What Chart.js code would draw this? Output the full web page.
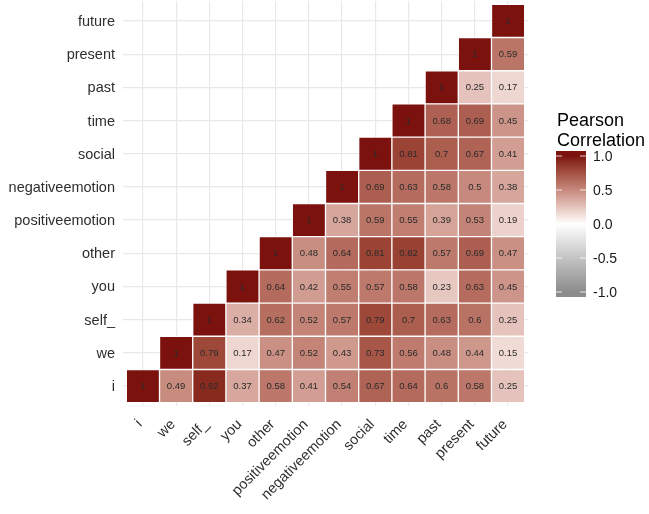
<!DOCTYPE html>
<html lang="en">
<head>
    <meta charset="UTF-8">
    <script src="https://cdn.jsdelivr.net/npm/chart.js@4.4.1/dist/chart.umd.min.js"></script>
    <title>Pearson Correlation</title>
    <style>
        html, body { margin: 0; padding: 0; background: #fff; }
        #chart-container { width: 649px; height: 514px; }
    </style>
</head>
<body>
    <div id="chart-container">
        <canvas id="corrChart" width="649" height="514"></canvas>
    </div>

    <script>
        // variables, from bottom/left to top/right
        const names = ['i', 'we', 'self_', 'you', 'other', 'positiveemotion', 'negativeemotion',
                       'social', 'time', 'past', 'present', 'future'];

        // each row starts at its own diagonal cell and goes right
        const rowI       = [1, 0.49, 0.92, 0.37, 0.58, 0.41, 0.54, 0.67, 0.64, 0.6, 0.58, 0.25];
        const rowWe      = [1, 0.79, 0.17, 0.47, 0.52, 0.43, 0.73, 0.56, 0.48, 0.44, 0.15];
        const rowSelf    = [1, 0.34, 0.62, 0.52, 0.57, 0.79, 0.7, 0.63, 0.6, 0.25];
        const rowYou     = [1, 0.64, 0.42, 0.55, 0.57, 0.58, 0.23, 0.63, 0.45];
        const rowOther   = [1, 0.48, 0.64, 0.81, 0.82, 0.57, 0.69, 0.47];
        const rowPosEmo  = [1, 0.38, 0.59, 0.55, 0.39, 0.53, 0.19];
        const rowNegEmo  = [1, 0.69, 0.63, 0.58, 0.5, 0.38];
        const rowSocial  = [1, 0.81, 0.7, 0.67, 0.41];
        const rowTime    = [1, 0.68, 0.69, 0.45];
        const rowPast    = [1, 0.25, 0.17];
        const rowPresent = [1, 0.59];
        const rowFuture  = [1];
        const rows = [rowI, rowWe, rowSelf, rowYou, rowOther, rowPosEmo, rowNegEmo,
                      rowSocial, rowTime, rowPast, rowPresent, rowFuture];

        const legendTicks = [1.0, 0.5, 0.0, -0.5, -1.0];
        const legendTitle = ['Pearson', 'Correlation'];

        const lowColor = [140, 140, 140];
        const midColor = [255, 255, 255];
        const highColor = [124, 18, 14];

        // --- Lab interpolation, like ggplot's gradient2 ---
        function toLin(c) { c /= 255; return c <= 0.04045 ? c / 12.92 : Math.pow((c + 0.055) / 1.055, 2.4); }
        function fromLin(c) { c = c <= 0.0031308 ? 12.92 * c : 1.055 * Math.pow(c, 1 / 2.4) - 0.055; return Math.max(0, Math.min(255, Math.round(c * 255))); }
        function rgbToLab(rgb) {
            const r = toLin(rgb[0]), g = toLin(rgb[1]), b = toLin(rgb[2]);
            let x = (0.4124 * r + 0.3576 * g + 0.1805 * b) / 0.95047;
            let y = (0.2126 * r + 0.7152 * g + 0.0722 * b);
            let z = (0.0193 * r + 0.1192 * g + 0.9505 * b) / 1.08883;
            const f = t => t > 0.008856 ? Math.cbrt(t) : 7.787 * t + 16 / 116;
            x = f(x); y = f(y); z = f(z);
            return [116 * y - 16, 500 * (x - y), 200 * (y - z)];
        }
        function labToRgb(lab) {
            let y = (lab[0] + 16) / 116, x = lab[1] / 500 + y, z = y - lab[2] / 200;
            const f = t => t * t * t > 0.008856 ? t * t * t : (t - 16 / 116) / 7.787;
            x = f(x) * 0.95047; y = f(y); z = f(z) * 1.08883;
            const r = 3.2406 * x - 1.5372 * y - 0.4986 * z;
            const g = -0.9689 * x + 1.8758 * y + 0.0415 * z;
            const b = 0.0557 * x - 0.2040 * y + 1.0570 * z;
            return [fromLin(r), fromLin(g), fromLin(b)];
        }
        function fillColor(v) {
            const end = v >= 0 ? highColor : lowColor;
            const t = Math.min(1, Math.abs(v));
            const a = rgbToLab(midColor), b = rgbToLab(end);
            const c = labToRgb([a[0] + (b[0] - a[0]) * t, a[1] + (b[1] - a[1]) * t, a[2] + (b[2] - a[2]) * t]);
            return `rgb(${c[0]}, ${c[1]}, ${c[2]})`;
        }

        const datasets = rows.map((row, k) => ({
            data: row.map((v, idx) => ({ x: k + idx, y: [k - 0.5, k + 0.5], v: v })),
            backgroundColor: ctx => fillColor(ctx.raw.v),
            borderColor: 'rgba(255,255,255,0.75)',
            borderWidth: 1,
            borderSkipped: false,
            barPercentage: 1,
            categoryPercentage: 1,
            grouped: false
        }));

        // value text inside each tile
        const cellLabels = {
            id: 'cellLabels',
            afterDatasetsDraw(chart) {
                const ctx = chart.ctx;
                ctx.save();
                ctx.font = '9.5px "Liberation Sans", Arial, sans-serif';
                ctx.fillStyle = '#2a2a2a';
                ctx.textAlign = 'center';
                ctx.textBaseline = 'middle';
                chart.data.datasets.forEach((ds, di) => {
                    chart.getDatasetMeta(di).data.forEach((el, i) => {
                        const p = el.getProps(['x', 'y', 'base'], true);
                        ctx.fillText(String(ds.data[i].v), p.x, (p.y + p.base) / 2 + 0.5);
                    });
                });
                ctx.restore();
            }
        };

        // colour bar legend on the right
        const colorBar = {
            id: 'colorBar',
            afterDraw(chart) {
                const ctx = chart.ctx;
                const left = 556, top = 151, w = 30, h = 146, inset = 5;
                ctx.save();
                ctx.fillStyle = '#000';
                ctx.font = '18px "Liberation Sans", Arial, sans-serif';
                ctx.textAlign = 'left';
                ctx.textBaseline = 'alphabetic';
                ctx.fillText(legendTitle[0], left + 1, 126);
                ctx.fillText(legendTitle[1], left + 1, 146);

                const grad = ctx.createLinearGradient(0, top + inset, 0, top + h - inset);
                for (let s = 0; s <= 20; s++) {
                    grad.addColorStop(s / 20, fillColor(1 - s / 10));
                }
                ctx.fillStyle = grad;
                ctx.fillRect(left, top, w, h);

                ctx.font = '14px "Liberation Sans", Arial, sans-serif';
                ctx.textBaseline = 'middle';
                legendTicks.forEach(v => {
                    const y = top + inset + (1 - v) / 2 * (h - 2 * inset);
                    ctx.strokeStyle = 'rgba(255,255,255,0.8)';
                    ctx.lineWidth = 1;
                    ctx.beginPath();
                    ctx.moveTo(left, y); ctx.lineTo(left + 6, y);
                    ctx.moveTo(left + w - 6, y); ctx.lineTo(left + w, y);
                    ctx.stroke();
                    ctx.fillStyle = '#1a1a1a';
                    ctx.fillText(v.toFixed(1), left + w + 7, y + 1);
                });
                ctx.restore();
            }
        };

        const tickFont = { family: '"Liberation Sans", Arial, sans-serif', size: 14.5 };

        new Chart(document.getElementById('corrChart').getContext('2d'), {
            type: 'bar',
            data: { datasets: datasets },
            options: {
                responsive: false,
                animation: false,
                layout: { padding: { left: 0, right: 121, top: 1, bottom: 0 } },
                plugins: { legend: { display: false }, tooltip: { enabled: false } },
                scales: {
                    x: {
                        type: 'linear',
                        offset: false,
                        min: -0.6,
                        max: 11.6,
                        afterBuildTicks: s => { s.ticks = names.map((n, i) => ({ value: i })); },
                        afterFit: s => { s.height = 108; s.paddingLeft = 0; s.paddingRight = 0; },
                        ticks: {
                            callback: v => names[v],
                            autoSkip: false,
                            minRotation: 45,
                            maxRotation: 45,
                            padding: 10,
                            labelOffset: -3,
                            color: '#2e2e2e',
                            font: tickFont
                        },
                        grid: { color: '#e8e8e8', lineWidth: 1.2, drawTicks: false, offset: false },
                        border: { display: false }
                    },
                    y: {
                        type: 'linear',
                        min: -0.6,
                        max: 11.6,
                        afterBuildTicks: s => { s.ticks = names.map((n, i) => ({ value: i })); },
                        afterFit: s => { s.width = 123; s.paddingTop = 0; s.paddingBottom = 0; },
                        ticks: {
                            callback: v => names[v],
                            autoSkip: false,
                            padding: 8,
                            labelOffset: 1,
                            color: '#2e2e2e',
                            font: tickFont
                        },
                        grid: { color: '#e8e8e8', lineWidth: 1.2, drawTicks: false },
                        border: { display: false }
                    }
                }
            },
            plugins: [cellLabels, colorBar]
        });
    </script>
</body>
</html>
